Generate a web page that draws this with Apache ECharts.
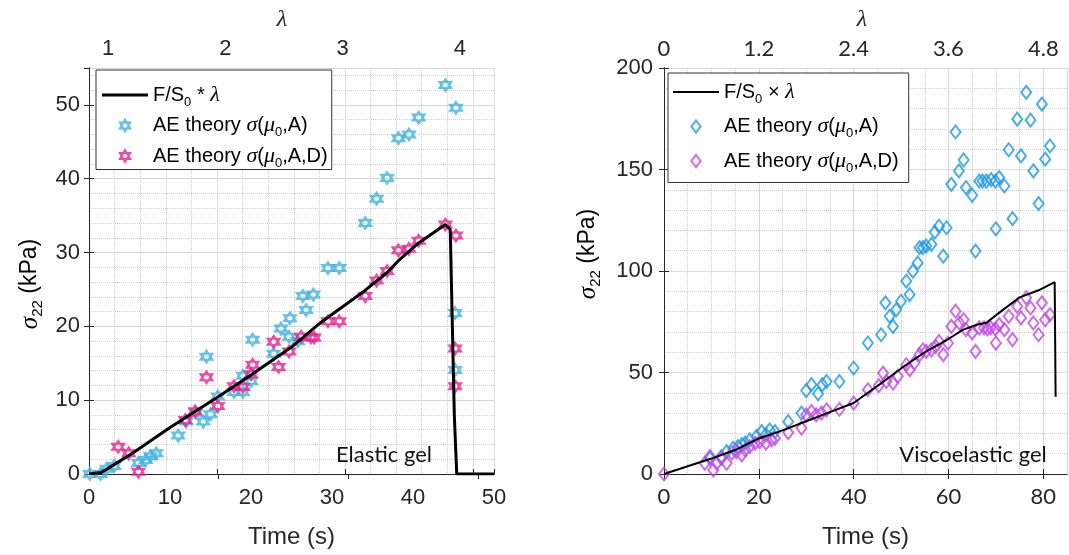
<!DOCTYPE html>
<html>
<head>
<meta charset="utf-8">
<script src="https://cdn.jsdelivr.net/npm/echarts@6/dist/echarts.min.js"></script>
<style>
  html, body { margin: 0; padding: 0; background: #fff; }
  #chart { width: 1069px; height: 555px; }
</style>
</head>
<body>
<div id="chart"></div>
<script>
// ---- Elastic gel: time (s) vs sigma_22 (kPa) ----
const elasticForce = [
  [0, 0], [1.5, 0.2], [3, 1.2], [5.5, 2.9], [10, 6.3], [16, 10.5], [20, 13.4],
  [25, 17.2], [28.7, 20.6], [34, 24.8], [36.8, 27.3], [38.2, 28.9], [40.7, 31.3],
  [44, 33.8], [44.6, 33.1], [45.1, 8], [45.4, 0], [50, 0]
];
const elasticSigmaA = [
  [0.1, 0], [1.4, 0], [2.2, 0.7], [3.1, 1.1], [6.1, 1.5], [7.0, 1.9], [7.6, 2.4],
  [8.3, 2.8], [11.0, 5.2], [12.0, 7.1], [13.2, 8.3], [14.1, 7.1], [15.0, 8.1],
  [14.5, 15.9], [15.9, 10.5], [17.9, 11.1], [19.0, 11.1], [19.0, 13.3], [20.0, 12.6],
  [20.2, 18.2], [22.8, 16.3], [23.7, 19.7], [24.8, 21.1], [24.7, 18.6], [25.8, 18.0],
  [26.4, 24.1], [27.7, 24.3], [26.8, 22.2], [29.5, 27.9], [30.9, 27.9], [34.1, 34.0],
  [35.5, 37.3], [36.8, 40.1], [38.2, 45.5], [39.5, 46.0], [40.7, 48.3], [44.0, 52.7],
  [45.3, 49.6], [45.2, 21.8], [45.2, 14.1]
];
const elasticSigmaAD = [
  [3.6, 3.7], [4.9, 2.8], [6.1, 0.3], [11.9, 7.3], [13.1, 8.5], [14.5, 13.1],
  [15.9, 9.2], [17.9, 11.9], [19.0, 11.8], [20.0, 13.5], [20.2, 14.8], [22.8, 17.9],
  [23.4, 14.5], [24.7, 16.6], [26.2, 18.6], [27.4, 18.5], [27.8, 18.5], [29.5, 20.7],
  [30.9, 20.7], [34.1, 24.1], [35.5, 26.2], [36.8, 27.5], [38.2, 30.3], [39.5, 30.5],
  [40.7, 31.6], [44.0, 33.8], [45.3, 32.3], [45.2, 17.0], [45.2, 11.9]
];

// ---- Viscoelastic gel ----
const viscoForce = [
  [0, 0], [5, 3.8], [10, 7.6], [15, 11.8], [20, 17.5], [25, 21.5], [30, 26],
  [35, 30.5], [40, 35], [43, 40], [46, 45], [50, 52], [55, 60], [60, 66.5],
  [63, 71], [66, 73.5], [68, 74.5], [71, 80], [75, 87], [79, 90.5], [82.4, 94.5], [82.6, 38]
];
const viscoSigmaA = [
  [9.7, 7.7], [12.1, 8.6], [13.2, 11], [14.6, 12.7], [15.6, 13.5], [16.4, 14.5],
  [17.1, 15.2], [18.1, 16.8], [19.5, 18.4], [20.6, 20.9], [21.5, 19.5], [22.3, 21.7],
  [23.4, 20.9], [26.2, 25.8], [29, 30], [30, 41.1], [31.1, 44], [32.5, 39.5],
  [33.4, 44], [34.3, 45.6], [37, 45.6], [40, 52.2], [43, 64.5], [45.8, 68.6],
  [46.7, 84.3], [47.6, 77.7], [48.3, 72.7], [49, 81], [50, 85.1], [51.1, 95],
  [51.8, 88.4], [52.5, 99.9], [53.5, 104], [53.9, 111.5], [54.6, 111.5], [55.3, 112.3],
  [56.4, 113.1], [57.1, 119.2], [58, 122.1], [58.9, 107.3], [59.6, 121.3], [60.6, 142.7],
  [61.5, 168.5], [62.2, 149.3], [63.2, 154.7], [63.7, 141.1], [65, 137.3], [65.7, 109.8],
  [66.5, 144.3], [67.2, 144.3], [68, 144.3], [69, 145], [69.9, 144.3], [70.7, 146],
  [71.8, 141.9], [70, 120.8], [72.7, 159.7], [73.5, 125.8], [74.5, 174.8], [75.3, 156.7],
  [76.4, 188], [77.3, 174.3], [77.9, 149.3], [79, 133.2], [79.7, 182.2], [80.4, 155.1],
  [81.4, 161.6]
];
const viscoSigmaAD = [
  [0, 0], [8.6, 5.3], [9.7, 8.6], [10.4, 2], [11.1, 5.3], [12.1, 7.7], [13.2, 5.3],
  [14.3, 10.2], [15.3, 11], [16.4, 9.4], [17.1, 11.9], [18.1, 13.5], [19.2, 15.2],
  [20.2, 16], [21.5, 15.2], [22.7, 16.8], [23.4, 17.6], [26.2, 20.4], [29, 22.6],
  [30, 29.1], [31.1, 30.8], [32.1, 29.1], [33.2, 30], [34.3, 31.6], [37, 31.9],
  [40, 34.9], [43, 41.5], [45.3, 43.5], [46.2, 49.7], [46.9, 45.6], [48.3, 44.8],
  [49.3, 48.1], [51.1, 53.8], [51.8, 51.4], [52.8, 54.7], [53.9, 58.8], [54.6, 61.2],
  [55.3, 60.4], [56.4, 61.2], [57.3, 62.9], [58, 65.3], [58.9, 58.8], [59.9, 64.5],
  [60.6, 72.7], [61.5, 80.2], [62.3, 74.4], [63.2, 76], [63.7, 71.1], [65, 69.5],
  [65.7, 60.4], [66.5, 72], [67.5, 72], [68.2, 71.5], [68.9, 72], [69.9, 71.5],
  [70.7, 73.6], [71.8, 71.1], [70, 64.5], [72.7, 77.7], [73.5, 66.2], [74.5, 82.6],
  [75.3, 76.9], [76.4, 86.8], [77.3, 81.8], [77.9, 74.4], [79, 68.6], [79.7, 84.3],
  [80.4, 76], [81.4, 78.5]
];

// ---- Axis ticks ----
const elasticTimeTicks = { min: 0, max: 50, interval: 10 };
const elasticStressTicks = { min: 0, max: 55, interval: 10 };
const elasticStretchLabels = [1, 2, 3, 4];
const elasticStretchRange = [0.838, 4.291];   // stretch at t = 0 s and t = 50 s
const viscoTimeTicks = { min: 0, max: 85, interval: 20 };
const viscoStressTicks = { min: 0, max: 200, interval: 50 };
const viscoStretchPerSecond = 0.06;          // stretch = 0.06 * time
const viscoStretchInterval = 1.2;

// ---- Styling ----
const AXIS = '#262626';
const MAJOR = '#dcdcdc';
const MINOR = '#cfcfcf';
const CYAN = '#3fb2e0';
const PINK = '#e6208e';
const BLUE = '#1e98e2';
const VIOLET = '#c445e4';
const SANS = 'Liberation Sans';
const SERIF = 'Liberation Serif';
const STAR = 'path://M0,-10L8.66,5L-8.66,5ZM0,10L8.66,-5L-8.66,-5Z';
const DIAMOND = 'path://M0,-13L10,0L0,13L-10,0Z';

const richText = (size) => ({
  t: { fontFamily: SANS, fontSize: size, color: '#000' },
  g: { fontFamily: SERIF, fontStyle: 'italic', fontSize: size + 2, color: '#000' },
  s: { fontFamily: SANS, fontSize: Math.round(size * 0.65), color: '#000', padding: [Math.round(size * 0.7), 0, 0, 0] }
});

const legendText = {
  'elastic F/S0': '{t|F/S}{s|0}{t| * }{g|λ}',
  'elastic A': '{t|AE theory }{g|σ}{t|(}{g|μ}{s|0}{t|,A)}',
  'elastic AD': '{t|AE theory }{g|σ}{t|(}{g|μ}{s|0}{t|,A,D)}',
  'visco F/S0': '{t|F/S}{s|0}{t| × }{g|λ}',
  'visco A': '{t|AE theory }{g|σ}{t|(}{g|μ}{s|0}{t|,A)}',
  'visco AD': '{t|AE theory }{g|σ}{t|(}{g|μ}{s|0}{t|,A,D)}'
};

const tickLabel = (family) => ({ show: true, fontFamily: family, fontSize: 22, color: AXIS });
const line = { show: true, lineStyle: { color: AXIS, width: 1 } };
const inTick = { show: true, inside: true, length: 5, lineStyle: { color: AXIS } };
const off = { show: false };

const timeName = {
  name: 'Time (s)', nameLocation: 'middle', nameGap: 51,
  nameTextStyle: { fontFamily: SANS, fontSize: 24, color: AXIS }
};

const lineIcon = (w) => 'path://M0,0H46V' + w + 'H0Z';

const option = {
  animation: false,
  backgroundColor: '#fff',
  grid: [
    { left: 89, top: 68, width: 405, height: 406 },
    { left: 664, top: 68, width: 403, height: 406 }
  ],
  xAxis: [
    // 0: elastic time axis
    Object.assign({ type: 'value', gridIndex: 0, position: 'bottom',
      min: elasticTimeTicks.min, max: elasticTimeTicks.max, interval: elasticTimeTicks.interval,
      axisLine: line, axisTick: off, splitLine: off,
      axisLabel: Object.assign(tickLabel(SANS), { margin: 13 }) }, timeName),
    // 1: elastic stretch axis on top
    { type: 'value', gridIndex: 0, position: 'top',
      min: elasticStretchRange[0], max: elasticStretchRange[1],
      axisLine: line, splitLine: off,
      axisTick: Object.assign({}, inTick, { customValues: [1.943, 3.048, 4.153] }),
      axisLabel: Object.assign(tickLabel(SANS), { customValues: elasticStretchLabels, margin: 8,
        formatter: (v) => String(Math.round(v)) }) },
    // 2: elastic minor vertical grid
    { type: 'value', gridIndex: 0, position: 'bottom', min: 0, max: 50, interval: 3.16,
      axisLine: off, axisTick: off, axisLabel: off,
      splitLine: { show: true, lineStyle: { color: MINOR, type: 'dotted', width: 1 } } },
    // 3: elastic major vertical grid
    { type: 'value', gridIndex: 0, position: 'bottom', min: 0, max: 50, interval: 15.8,
      axisLine: off, axisLabel: off, axisTick: inTick,
      splitLine: { show: true, lineStyle: { color: MAJOR, width: 1 } } },
    // 4: viscoelastic time axis
    Object.assign({ type: 'value', gridIndex: 1, position: 'bottom',
      min: viscoTimeTicks.min, max: viscoTimeTicks.max, interval: viscoTimeTicks.interval,
      axisLine: line, axisTick: inTick,
      splitLine: { show: true, lineStyle: { color: MAJOR, width: 1 } },
      axisLabel: Object.assign(tickLabel('Lato'), { margin: 12, showMaxLabel: false }) }, timeName),
    // 5: viscoelastic stretch axis on top
    { type: 'value', gridIndex: 1, position: 'top',
      min: viscoTimeTicks.min * viscoStretchPerSecond, max: viscoTimeTicks.max * viscoStretchPerSecond,
      interval: viscoStretchInterval,
      axisLine: line, axisTick: inTick, splitLine: off,
      axisLabel: Object.assign(tickLabel('Lato'), { margin: 8, showMaxLabel: false,
        formatter: (v) => (Math.round(v * 10) / 10).toString() }) },
    // 6: viscoelastic minor vertical grid
    { type: 'value', gridIndex: 1, position: 'bottom', min: 0, max: 85, interval: 5,
      axisLine: off, axisTick: off, axisLabel: off,
      splitLine: { show: true, lineStyle: { color: MINOR, type: 'dotted', width: 1 } } }
  ],
  yAxis: [
    // 0: elastic stress
    { type: 'value', gridIndex: 0, position: 'left',
      min: elasticStressTicks.min, max: elasticStressTicks.max, interval: elasticStressTicks.interval,
      axisLine: line, axisTick: inTick,
      splitLine: { show: true, lineStyle: { color: MAJOR, width: 1 } },
      axisLabel: Object.assign(tickLabel(SANS), { margin: 9, showMaxLabel: false }) },
    // 1: elastic right border
    { type: 'value', gridIndex: 0, position: 'right', min: 0, max: 55, interval: 10,
      axisLine: line, axisTick: inTick, axisLabel: off, splitLine: off },
    // 2: elastic minor horizontal grid
    { type: 'value', gridIndex: 0, position: 'left', min: 0, max: 55, interval: 2,
      axisLine: off, axisTick: off, axisLabel: off,
      splitLine: { show: true, lineStyle: { color: MINOR, type: 'dotted', width: 1 } } },
    // 3: viscoelastic stress
    { type: 'value', gridIndex: 1, position: 'left',
      min: viscoStressTicks.min, max: viscoStressTicks.max, interval: viscoStressTicks.interval,
      axisLine: line, axisTick: inTick,
      splitLine: { show: true, lineStyle: { color: MAJOR, width: 1 } },
      minorTick: { show: false, splitNumber: 5 },
      minorSplitLine: { show: true, lineStyle: { color: MINOR, type: 'dotted', width: 1 } },
      axisLabel: Object.assign(tickLabel(SANS), { margin: 11 }) },
    // 4: viscoelastic right border
    { type: 'value', gridIndex: 1, position: 'right', min: 0, max: 200, interval: 50,
      axisLine: line, axisTick: inTick, axisLabel: off, splitLine: off }
  ],
  legend: [
    { data: [
        { name: 'elastic F/S0', icon: lineIcon(3), itemStyle: { color: '#000', borderWidth: 0 } },
        'elastic A', 'elastic AD'],
      orient: 'vertical', left: 96, top: 70, padding: [14, 4, 0, 6], itemGap: 6,
      itemWidth: 46, itemHeight: 12, selectedMode: false,
      backgroundColor: '#fff', borderColor: '#333', borderWidth: 1,
      formatter: (n) => legendText[n], textStyle: { rich: richText(20) } },
    { data: [
        { name: 'visco F/S0', icon: lineIcon(2), itemStyle: { color: '#000', borderWidth: 0 } },
        'visco A', 'visco AD'],
      orient: 'vertical', left: 668, top: 73, padding: [8, 10, 8, 5], itemGap: 10,
      itemWidth: 46, itemHeight: 12, selectedMode: false,
      backgroundColor: '#fff', borderColor: '#333', borderWidth: 1,
      formatter: (n) => legendText[n], textStyle: { rich: richText(20) } }
  ],
  series: [
    { name: 'elastic A', type: 'scatter', xAxisIndex: 0, yAxisIndex: 0, data: elasticSigmaA,
      symbol: STAR, symbolSize: 12,
      itemStyle: { color: 'rgba(255,255,255,0)', borderColor: CYAN, borderWidth: 2 } },
    { name: 'elastic AD', type: 'scatter', xAxisIndex: 0, yAxisIndex: 0, data: elasticSigmaAD,
      symbol: STAR, symbolSize: 12,
      itemStyle: { color: 'rgba(255,255,255,0)', borderColor: PINK, borderWidth: 2 } },
    { name: 'elastic F/S0', type: 'line', xAxisIndex: 0, yAxisIndex: 0, data: elasticForce,
      showSymbol: false, symbol: 'none', z: 5, color: '#000',
      lineStyle: { color: '#000', width: 3 } },
    { name: 'visco A', type: 'scatter', xAxisIndex: 4, yAxisIndex: 3, data: viscoSigmaA,
      symbol: DIAMOND, symbolSize: [10, 13],
      itemStyle: { color: 'rgba(255,255,255,0)', borderColor: BLUE, borderWidth: 2 } },
    { name: 'visco AD', type: 'scatter', xAxisIndex: 4, yAxisIndex: 3, data: viscoSigmaAD,
      symbol: DIAMOND, symbolSize: [10, 13],
      itemStyle: { color: 'rgba(255,255,255,0)', borderColor: VIOLET, borderWidth: 2 } },
    { name: 'visco F/S0', type: 'line', xAxisIndex: 4, yAxisIndex: 3, data: viscoForce,
      showSymbol: false, symbol: 'none', z: 5, color: '#000',
      lineStyle: { color: '#000', width: 2 } }
  ],
  graphic: [
    { type: 'text', x: 30, y: 284, rotation: Math.PI / 2,
      style: { text: '{g|σ}{s|22}{t| (kPa)}', rich: richText(23), align: 'center', verticalAlign: 'middle' } },
    { type: 'text', x: 588, y: 254, rotation: Math.PI / 2,
      style: { text: '{g|σ}{s|22}{t| (kPa)}', rich: richText(23), align: 'center', verticalAlign: 'middle' } },
    { type: 'text', x: 282, y: 20,
      style: { text: 'λ', font: 'italic 24px "Liberation Serif"', fill: AXIS, align: 'center', verticalAlign: 'middle' } },
    { type: 'text', x: 862, y: 20,
      style: { text: 'λ', font: 'italic 24px "Liberation Serif"', fill: AXIS, align: 'center', verticalAlign: 'middle' } },
    { type: 'text', x: 384, y: 455, z: 10,
      style: { text: 'Elastic gel', font: '22px Lato', fill: '#111', align: 'center', verticalAlign: 'middle' } },
    { type: 'text', x: 973, y: 455, z: 10,
      style: { text: 'Viscoelastic gel', font: '22px Lato', fill: '#111', align: 'center', verticalAlign: 'middle' } }
  ]
};

const chart = echarts.init(document.getElementById('chart'), null, { renderer: 'canvas' });
chart.setOption(option);
</script>
</body>
</html>
